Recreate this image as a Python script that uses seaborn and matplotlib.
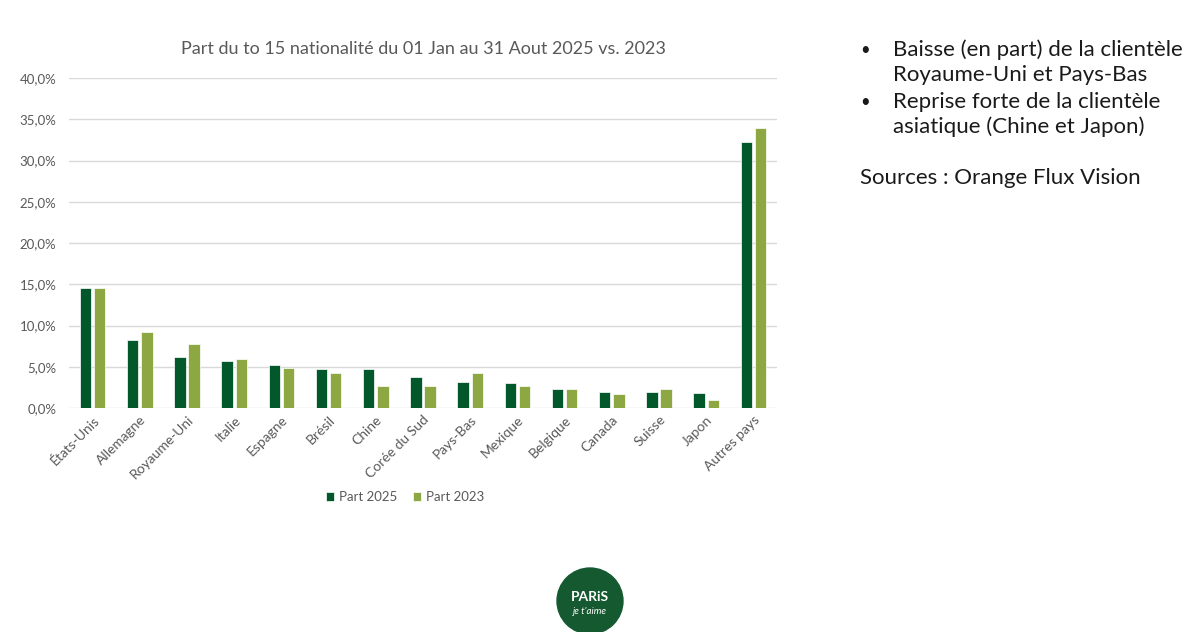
import numpy as np
import pandas as pd
import matplotlib.pyplot as plt
import seaborn as sns
from matplotlib.patches import Circle
from matplotlib.ticker import FuncFormatter

# Data
pays = ['États-Unis', 'Allemagne', 'Royaume-Uni', 'Italie', 'Espagne', 'Brésil',
        'Chine', 'Corée du Sud', 'Pays-Bas', 'Mexique', 'Belgique', 'Canada',
        'Suisse', 'Japon', 'Autres pays']
part_2025 = [14.5, 8.2, 6.2, 5.7, 5.2, 4.7, 4.7, 3.8, 3.2, 3.0, 2.3, 2.0, 2.0, 1.85, 32.3]
part_2023 = [14.5, 9.2, 7.7, 6.0, 4.8, 4.3, 2.7, 2.7, 4.2, 2.7, 2.3, 1.65, 2.3, 0.95, 34.0]
series = ['Part 2025', 'Part 2023']
colors = ['#02572B', '#8DA843']

df = pd.DataFrame({
    'pays': pays * 2,
    'serie': [series[0]] * len(pays) + [series[1]] * len(pays),
    'part': part_2025 + part_2023,
})

sns.set_theme(style='white')
plt.rcParams['font.family'] = ['Lato', 'DejaVu Sans']

fig = plt.figure(figsize=(11.89, 6.32), dpi=100)
ax = fig.add_axes([69 / 1189, 1 - 408 / 632, 708 / 1189, 330 / 632])

sns.barplot(data=df, x='pays', y='part', hue='serie', palette=colors, saturation=1,
            width=0.6, gap=0.2, ax=ax, edgecolor='white', linewidth=0.5)

ax.set_xlim(-0.5, len(pays) - 0.5)
ax.set_ylim(0, 40)
ax.set_yticks(np.arange(0, 41, 5))
ax.yaxis.set_major_formatter(FuncFormatter(lambda v, p: f'{v:.1f}%'.replace('.', ',')))
ax.grid(axis='y', color='#d9d9d9', linewidth=1)
ax.set_axisbelow(True)
ax.set_xlabel('')
ax.set_ylabel('')
sns.despine(ax=ax, left=True, bottom=True)
ax.tick_params(axis='y', labelsize=9.5, colors='#595959', pad=9, length=0)
ax.tick_params(axis='x', labelsize=10, colors='#595959', length=0, pad=4)
plt.setp(ax.get_xticklabels(), rotation=45, ha='right', rotation_mode='anchor')

ax.set_title('Part du to 15 nationalité du 01 Jan au 31 Aout 2025 vs. 2023',
             fontsize=13, color='#595959', pad=17)

ax.legend(loc='center', bbox_to_anchor=(405 / 1189, 1 - 497 / 632),
          bbox_transform=fig.transFigure, ncol=2, frameon=False, fontsize=9.5,
          handlelength=0.6, handleheight=0.6, columnspacing=1.2, handletextpad=0.4,
          labelcolor='#595959')

# Commentary on the right
txt = dict(fontsize=16, color='#1a1a1a', va='center')
fig.text(860 / 1189, 1 - 50 / 632, '•', fontsize=12, color='#1a1a1a', va='center')
fig.text(893 / 1189, 1 - 50 / 632, 'Baisse (en part) de la clientèle', **txt)
fig.text(893 / 1189, 1 - 75 / 632, 'Royaume-Uni et Pays-Bas', **txt)
fig.text(860 / 1189, 1 - 102 / 632, '•', fontsize=12, color='#1a1a1a', va='center')
fig.text(893 / 1189, 1 - 102 / 632, 'Reprise forte de la clientèle', **txt)
fig.text(893 / 1189, 1 - 127 / 632, 'asiatique (Chine et Japon)', **txt)
fig.text(860 / 1189, 1 - 178 / 632, 'Sources : Orange Flux Vision', **txt)

# Little Paris logo at the bottom
logo = fig.add_axes([(590 - 34) / 1189, 1 - (601 + 34) / 632, 68 / 1189, 68 / 632])
logo.set_xlim(-1, 1)
logo.set_ylim(-1, 1)
logo.set_aspect('equal')
logo.axis('off')
logo.add_patch(Circle((0, 0), 0.97, color='#14592F'))
logo.text(0, 0.12, 'PARiS', color='white', fontsize=10, fontweight='bold',
          ha='center', va='center')
logo.text(0, -0.3, "je t'aime", color='white', fontsize=7, style='italic',
          ha='center', va='center')

fig.savefig('out.png', dpi=100)
